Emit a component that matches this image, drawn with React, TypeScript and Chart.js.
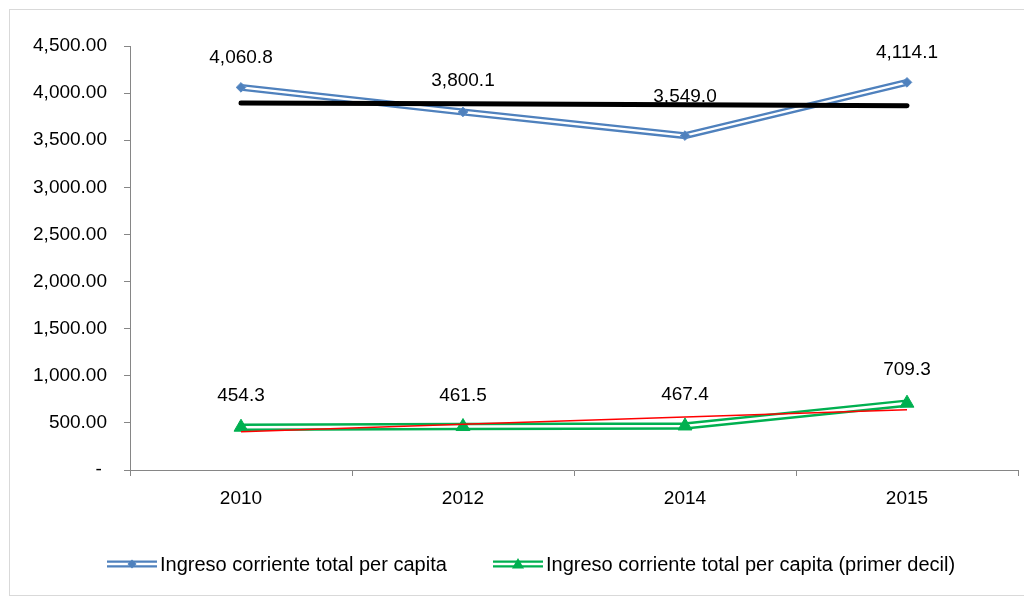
import React, { useEffect, useRef } from "react";
import { Chart, registerables } from "chart.js";

Chart.register(...registerables);

const years = ["2010", "2012", "2014", "2015"];
const ingresoTotal = [4060.8, 3800.1, 3549.0, 4114.1];
const ingresoPrimerDecil = [454.3, 461.5, 467.4, 709.3];
// Linear trend lines as they appear in the picture
const tendenciaTotal = [3895, 3886, 3876, 3867];
const tendenciaPrimerDecil = [407, 485, 562, 639];
const yMin = 0;
const yMax = 4500;
const yStep = 500;
const legendLabels = [
  "Ingreso corriente total per capita",
  "Ingreso corriente total per capita (primer decil)",
];

const BLUE = "#4F81BD";
const GREEN = "#00B050";
const FONT = "'Liberation Sans', Arial, sans-serif";
const FS = 19;

const fmtLabel = (v: number) =>
  v.toLocaleString("en-US", { minimumFractionDigits: 1, maximumFractionDigits: 1 });
const fmtTick = (v: number) =>
  v === 0 ? "- " : v.toLocaleString("en-US", { minimumFractionDigits: 2, maximumFractionDigits: 2 });

const drawDiamond = (ctx: CanvasRenderingContext2D, x: number, y: number, r: number) => {
  ctx.beginPath();
  ctx.moveTo(x, y - r);
  ctx.lineTo(x + r, y);
  ctx.lineTo(x, y + r);
  ctx.lineTo(x - r, y);
  ctx.closePath();
  ctx.fill();
};
const drawTriangle = (ctx: CanvasRenderingContext2D, x: number, y: number, r: number) => {
  ctx.beginPath();
  ctx.moveTo(x, y - r);
  ctx.lineTo(x + r * 0.866, y + r / 2);
  ctx.lineTo(x - r * 0.866, y + r / 2);
  ctx.closePath();
  ctx.fill();
};

const chromePlugin = {
  id: "chrome",
  beforeDraw(chart: any) {
    const ctx = chart.ctx;
    ctx.save();
    ctx.fillStyle = "#ffffff";
    ctx.fillRect(0, 0, chart.width, chart.height);
    ctx.strokeStyle = "#d9d9d9";
    ctx.lineWidth = 1;
    ctx.strokeRect(1.5, 1.5, chart.width - 3, chart.height - 3);
    ctx.restore();
  },
  afterDatasetDraw(chart: any, args: any, opts: any) {
    if (args.index !== opts.labelAfterIndex) return;
    const ctx = chart.ctx;
    ctx.save();
    ctx.font = `${FS}px ${FONT}`;
    ctx.fillStyle = "#000";
    ctx.textAlign = "center";
    ctx.textBaseline = "middle";
    const sets = opts.labelSets as { index: number; offsets: number[] }[];
    sets.forEach((s) => {
      const meta = chart.getDatasetMeta(s.index);
      const data = chart.data.datasets[s.index].data as number[];
      meta.data.forEach((pt: any, j: number) => {
        ctx.fillText(fmtLabel(data[j]), pt.x, pt.y - s.offsets[j]);
      });
    });
    ctx.restore();
  },
  afterDraw(chart: any, _args: any, opts: any) {
    const ctx = chart.ctx;
    ctx.save();
    ctx.font = `${FS + 1}px ${FONT}`;
    ctx.textBaseline = "middle";
    ctx.textAlign = "left";
    const y = opts.legendY;
    const items = [
      { x: 99, color: BLUE, diamond: true, text: legendLabels[0] },
      { x: 485, color: GREEN, diamond: false, text: legendLabels[1] },
    ];
    items.forEach((it) => {
      ctx.lineCap = "butt";
      ctx.strokeStyle = it.color;
      ctx.lineWidth = 7;
      ctx.beginPath();
      ctx.moveTo(it.x, y);
      ctx.lineTo(it.x + 50, y);
      ctx.stroke();
      ctx.strokeStyle = "#fff";
      ctx.lineWidth = 2.4;
      ctx.beginPath();
      ctx.moveTo(it.x, y);
      ctx.lineTo(it.x + 50, y);
      ctx.stroke();
      ctx.fillStyle = it.color;
      if (it.diamond) drawDiamond(ctx, it.x + 25, y, 4.5);
      else drawTriangle(ctx, it.x + 25, y + 1, 7);
      ctx.fillStyle = "#000";
      ctx.fillText(it.text, it.x + 53, y + 1);
    });
    ctx.restore();
  },
};

export default function App() {
  const ref = useRef<HTMLCanvasElement>(null);
  useEffect(() => {
    if (!ref.current) return;
    Chart.defaults.font.family = FONT;
    Chart.defaults.font.size = FS;
    Chart.defaults.color = "#000";
    const common = { tension: 0, fill: false };
    const chart = new Chart(ref.current, {
      type: "line",
      data: {
        labels: years,
        datasets: [
          { ...common, data: ingresoTotal, borderColor: BLUE, borderWidth: 7, pointRadius: 0, order: 7 },
          { ...common, data: ingresoTotal, borderColor: "#fff", borderWidth: 2.4, pointRadius: 0, order: 6 },
          { ...common, data: ingresoPrimerDecil, borderColor: GREEN, borderWidth: 7.5, pointRadius: 0, order: 5 },
          { ...common, data: ingresoPrimerDecil, borderColor: "#fff", borderWidth: 2.6, pointRadius: 0, order: 4 },
          {
            ...common, data: ingresoTotal, showLine: false, pointStyle: "rectRot", pointRadius: 4.8,
            backgroundColor: BLUE, borderColor: "#5b8cc6", borderWidth: 1, order: 3,
          },
          {
            ...common, data: ingresoPrimerDecil, showLine: false, pointStyle: "triangle", pointRadius: 8,
            backgroundColor: GREEN, borderColor: GREEN, borderWidth: 1, order: 2,
          },
          { ...common, data: tendenciaTotal, borderColor: "#000", borderWidth: 5, pointRadius: 0, borderCapStyle: "round", order: 1 },
          { ...common, data: tendenciaPrimerDecil, borderColor: "#FF0000", borderWidth: 1.5, pointRadius: 0, order: 0 },
        ],
      },
      options: {
        responsive: false,
        animation: false,
        layout: { padding: { left: 0, top: 38, right: 14, bottom: 87 } },
        plugins: {
          legend: { display: false },
          tooltip: { enabled: false },
          chrome: {
            labelAfterIndex: 5,
            labelSets: [
              { index: 4, offsets: [30, 31, 39, 30] },
              { index: 5, offsets: [31, 31, 31, 33] },
            ],
            legendY: 556,
          },
        } as any,
        scales: {
          x: {
            type: "category",
            offset: true,
            grid: { offset: true, drawOnChartArea: false, tickLength: 6, color: "#868686" },
            border: { color: "#868686" },
            ticks: { padding: 11, color: "#000", font: { size: FS, family: FONT } },
            afterFit: (s: any) => { s.height = 40; },
          },
          y: {
            min: yMin,
            max: yMax,
            grid: { drawOnChartArea: false, tickLength: 6, color: "#868686" },
            border: { color: "#868686" },
            ticks: {
              stepSize: yStep,
              padding: 17,
              color: "#000",
              font: { size: FS, family: FONT },
              callback: (v: any) => fmtTick(Number(v)),
            },
            afterFit: (s: any) => { s.width = 122; },
          },
        },
      } as any,
      plugins: [chromePlugin],
    });
    return () => chart.destroy();
  }, []);
  return <canvas ref={ref} width={1024} height={589} style={{ display: "block" }} />;
}
